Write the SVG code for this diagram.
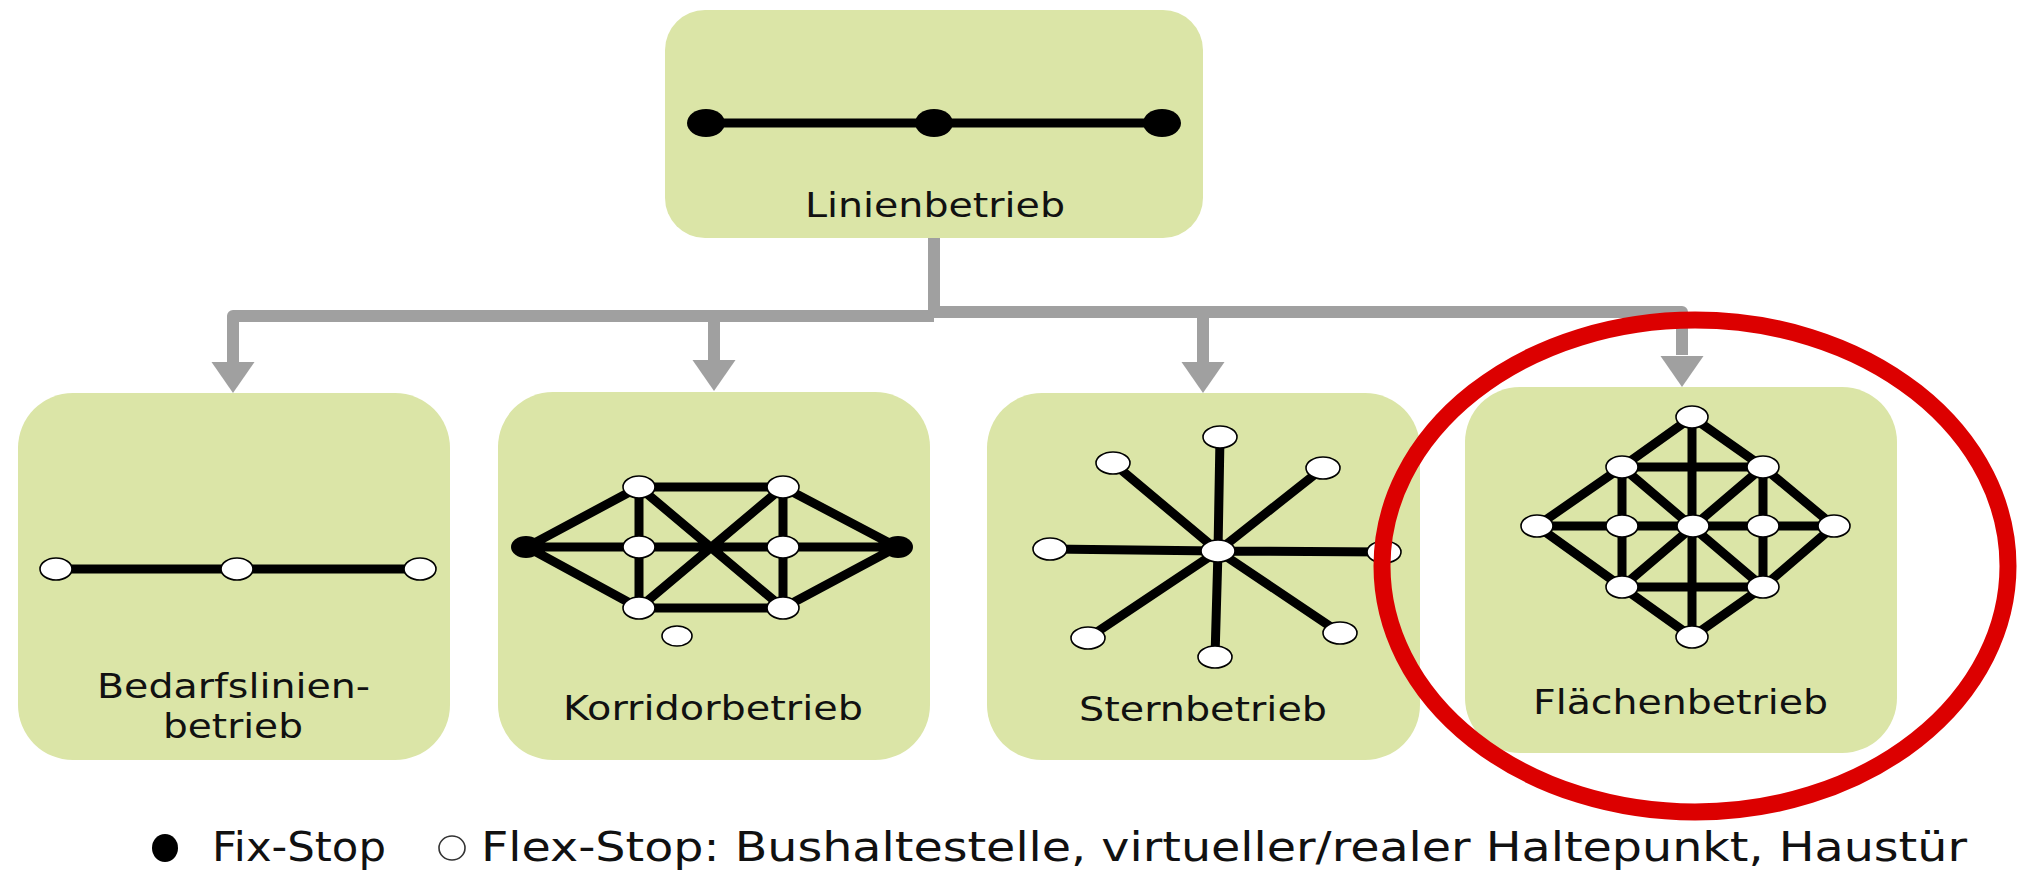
<svg xmlns="http://www.w3.org/2000/svg" xmlns:xlink="http://www.w3.org/1999/xlink" width="2020" height="871" viewBox="0 0 2020 871">
<style>
.box{fill:#dbe5a7;}
.lbl{font-family:"DejaVu Sans",Verdana,sans-serif;font-size:34px;fill:#111;}
.leg{font-family:"DejaVu Sans",Verdana,sans-serif;font-size:40px;fill:#111;}
.conn{fill:none;stroke:#a0a0a0;stroke-width:12;stroke-linejoin:round;}
.head{fill:#a0a0a0;}
.edge{stroke:#000;stroke-width:9;stroke-linecap:round;fill:none;}
.flex{fill:#fff;stroke:#000;stroke-width:1.6;}
.fix{fill:#000;}
</style>
<defs>
<path id="arrowhead" d="M-21.5,0 L21.5,0 L0,31 Z"/>
</defs>
<rect width="2020" height="871" fill="#fff"/>

<g id="connectors">
<path class="conn" d="M934,238 V315"/>
<path class="conn" d="M233,362 V316 H934"/>
<path class="conn" d="M934,312 H1682 V355"/>
<path class="conn" d="M714,316 V360"/>
<path class="conn" d="M1203,312 V362"/>
<use href="#arrowhead" class="head" x="233" y="362"/>
<use href="#arrowhead" class="head" x="714" y="360"/>
<use href="#arrowhead" class="head" x="1203" y="362"/>
<use href="#arrowhead" class="head" x="1682" y="356"/>
</g>

<g id="linienbetrieb">
<rect class="box" x="665" y="10" width="538" height="228" rx="40"/>
<line class="edge" x1="706" y1="123" x2="1162" y2="123"/>
<ellipse class="fix" cx="706" cy="123" rx="19" ry="14"/>
<ellipse class="fix" cx="934" cy="123" rx="19" ry="14"/>
<ellipse class="fix" cx="1162" cy="123" rx="19" ry="14"/>
<text class="lbl" x="805" y="217" textLength="260" lengthAdjust="spacingAndGlyphs">Linienbetrieb</text>
</g>

<g id="bedarfslinienbetrieb">
<rect class="box" x="18" y="393" width="432" height="367" rx="55"/>
<line class="edge" x1="56" y1="569" x2="420" y2="569" stroke-width="10"/>
<ellipse class="flex" cx="56" cy="569" rx="16" ry="11"/>
<ellipse class="flex" cx="237" cy="569" rx="16" ry="11"/>
<ellipse class="flex" cx="420" cy="569" rx="16" ry="11"/>
<text class="lbl" x="97" y="698" textLength="273" lengthAdjust="spacingAndGlyphs">Bedarfslinien-</text>
<text class="lbl" x="163" y="738" textLength="140" lengthAdjust="spacingAndGlyphs">betrieb</text>
</g>

<g id="korridorbetrieb">
<rect class="box" x="498" y="392" width="432" height="368" rx="55"/>
<path class="edge" d="M527,547 L639,487 M527,547 L897,547 M527,547 L639,608 M639,487 L783,487 M639,487 L639,608 M639,487 L783,608 M783,487 L639,608 M783,487 L783,608 M639,608 L783,608 M783,487 L897,547 M783,608 L897,547"/>
<ellipse class="fix" cx="526" cy="547" rx="15" ry="11"/>
<ellipse class="fix" cx="898" cy="547" rx="15" ry="11"/>
<ellipse class="flex" cx="639" cy="487" rx="16" ry="11"/>
<ellipse class="flex" cx="783" cy="487" rx="16" ry="11"/>
<ellipse class="flex" cx="639" cy="547" rx="16" ry="11"/>
<ellipse class="flex" cx="783" cy="547" rx="16" ry="11"/>
<ellipse class="flex" cx="639" cy="608" rx="16" ry="11"/>
<ellipse class="flex" cx="783" cy="608" rx="16" ry="11"/>
<ellipse class="flex" cx="677" cy="636" rx="15" ry="10"/>
<text class="lbl" x="563" y="720" textLength="300" lengthAdjust="spacingAndGlyphs">Korridorbetrieb</text>
</g>

<g id="sternbetrieb">
<rect class="box" x="987" y="393" width="433" height="367" rx="55"/>
<path class="edge" d="M1218,551 L1220,437 M1218,551 L1113,463 M1218,551 L1323,468 M1218,551 L1050,549 M1218,551 L1384,552 M1218,551 L1088,638 M1218,551 L1215,657 M1218,551 L1340,633"/>
<ellipse class="flex" cx="1220" cy="437" rx="17" ry="11"/>
<ellipse class="flex" cx="1113" cy="463" rx="17" ry="11"/>
<ellipse class="flex" cx="1323" cy="468" rx="17" ry="11"/>
<ellipse class="flex" cx="1050" cy="549" rx="17" ry="11"/>
<ellipse class="flex" cx="1384" cy="552" rx="17" ry="11"/>
<ellipse class="flex" cx="1088" cy="638" rx="17" ry="11"/>
<ellipse class="flex" cx="1215" cy="657" rx="17" ry="11"/>
<ellipse class="flex" cx="1340" cy="633" rx="17" ry="11"/>
<ellipse class="flex" cx="1218" cy="551" rx="17" ry="11"/>
<text class="lbl" x="1079" y="721" textLength="248" lengthAdjust="spacingAndGlyphs">Sternbetrieb</text>
</g>

<g id="flaechenbetrieb">
<rect class="box" x="1465" y="387" width="432" height="366" rx="55"/>
<path class="edge" d="M1692,417 L1622,467 M1692,417 L1763,467 M1622,467 L1537,526 M1763,467 L1834,526 M1537,526 L1622,587 M1834,526 L1763,587 M1622,587 L1692,637 M1763,587 L1692,637 M1537,526 L1834,526 M1622,467 L1622,587 M1763,467 L1763,587 M1622,467 L1763,587 M1763,467 L1622,587"/>
<path class="edge" stroke-width="11" d="M1622,467 L1763,467 M1622,587 L1763,587"/>
<path class="edge" stroke-width="12" d="M1692,417 L1692,637"/>
<ellipse class="flex" cx="1692" cy="417" rx="16" ry="11"/>
<ellipse class="flex" cx="1622" cy="467" rx="16" ry="11"/>
<ellipse class="flex" cx="1763" cy="467" rx="16" ry="11"/>
<ellipse class="flex" cx="1537" cy="526" rx="16" ry="11"/>
<ellipse class="flex" cx="1622" cy="526" rx="16" ry="11"/>
<ellipse class="flex" cx="1693" cy="526" rx="16" ry="11"/>
<ellipse class="flex" cx="1763" cy="526" rx="16" ry="11"/>
<ellipse class="flex" cx="1834" cy="526" rx="16" ry="11"/>
<ellipse class="flex" cx="1622" cy="587" rx="16" ry="11"/>
<ellipse class="flex" cx="1763" cy="587" rx="16" ry="11"/>
<ellipse class="flex" cx="1692" cy="637" rx="16" ry="11"/>
<text class="lbl" x="1533" y="714" textLength="295" lengthAdjust="spacingAndGlyphs">Flächenbetrieb</text>
</g>

<g id="highlight">
<ellipse cx="1695" cy="566" rx="313" ry="246" fill="none" stroke="#dc0000" stroke-width="17"/>
</g>

<g id="legend">
<ellipse class="fix" cx="165" cy="848" rx="13" ry="14"/>
<text class="leg" x="212" y="861" textLength="174" lengthAdjust="spacingAndGlyphs">Fix-Stop</text>
<ellipse cx="452" cy="848" rx="13" ry="12" fill="#fff" stroke="#333" stroke-width="1.6"/>
<text class="leg" x="481" y="861" textLength="1486" lengthAdjust="spacingAndGlyphs">Flex-Stop: Bushaltestelle, virtueller/realer Haltepunkt, Haustür</text>
</g>
</svg>
